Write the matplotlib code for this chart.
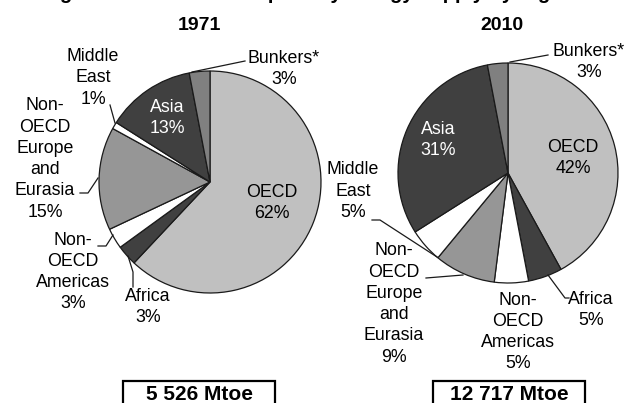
import matplotlib
matplotlib.use("Agg")
import matplotlib.pyplot as plt
from matplotlib.patches import Rectangle

# ---- data ----
regions = ["OECD", "Africa", "Non-\nOECD\nAmericas", "Non-\nOECD\nEurope\nand\nEurasia",
           "Middle\nEast", "Asia", "Bunkers*"]
shares_1971 = [62, 3, 3, 15, 1, 13, 3]
shares_2010 = [42, 5, 5, 9, 5, 31, 3]
years = ["1971", "2010"]
totals = ["5 526 Mtoe", "12 717 Mtoe"]
title = "Regional shares of total primary energy supply by region"

# ---- style ----
colors = ["#c0c0c0", "#404040", "#ffffff", "#969696", "#ffffff", "#404040", "#808080"]
text_colors = ["black", "black", "black", "black", "black", "white", "black"]
FONT = "Liberation Sans"
W, H = 624, 403

fig = plt.figure(figsize=(W / 100, H / 100), dpi=100)
ax = fig.add_axes([0, 0, 1, 1])

def Y(y):
    return H - y

# layout (image pixel coords)
pies = [
    dict(center=(210, 182), radius=111, year_pos=(199, 26), box=(123, 275),
         labels={0: (272, 203), 1: (148, 307), 2: (73, 272), 3: (45, 159),
                 4: (93, 78), 5: (167, 118), 6: (284, 69)},
         leaders=[[(192, 72), (245, 61)],
                  [(110, 105), (115, 123)],
                  [(80, 193), (88, 193), (98, 178)],
                  [(98, 246), (106, 246), (113, 235)],
                  [(128, 256), (133, 272), (133, 287)]]),
    dict(center=(508, 173), radius=110, year_pos=(502, 26), box=(433, 585),
         labels={0: (573, 158), 1: (591, 310), 2: (518, 332), 3: (394, 304),
                 4: (353, 191), 5: (438, 140), 6: (589, 62)},
         leaders=[[(510, 62), (548, 55)],
                  [(372, 220), (380, 220), (437, 257)],
                  [(426, 278), (463, 275)],
                  [(548, 275), (565, 298), (569, 298)]]),
]

for shares, spec, year, total in zip([shares_1971, shares_2010], pies, years, totals):
    cx, cy = spec["center"]
    ax.pie(shares, colors=colors, startangle=90, counterclock=False,
           center=(cx, Y(cy)), radius=spec["radius"],
           wedgeprops=dict(edgecolor="#1a1a1a", linewidth=0.9))
    for i, (x, y) in spec["labels"].items():
        ax.text(x, Y(y), f"{regions[i]}\n{shares[i]}%", ha="center", va="center",
                fontsize=12.8, family=FONT, color=text_colors[i], linespacing=1.33)
    for pts in spec["leaders"]:
        xs = [p[0] for p in pts]
        ys = [Y(p[1]) for p in pts]
        ax.plot(xs, ys, color="#1a1a1a", linewidth=0.9)
    yx, yy = spec["year_pos"]
    ax.text(yx, Y(yy), year, ha="center", va="center", fontsize=14,
            fontweight="bold", family=FONT)
    x0, x1 = spec["box"]
    ax.add_patch(Rectangle((x0, Y(410)), x1 - x0, 410 - 381, fill=False,
                           edgecolor="black", linewidth=1.6, clip_on=False))
    ax.text((x0 + x1) / 2, Y(395), total, ha="center", va="center", fontsize=15,
            fontweight="bold", family=FONT)

ax.text(W / 2 - 5, Y(-1), title, ha="center", va="baseline", fontsize=14.5,
        fontweight="bold", family=FONT)

ax.set_xlim(0, W)
ax.set_ylim(0, H)
ax.set_aspect("equal")
ax.axis("off")
fig.savefig("out.png", dpi=100)
